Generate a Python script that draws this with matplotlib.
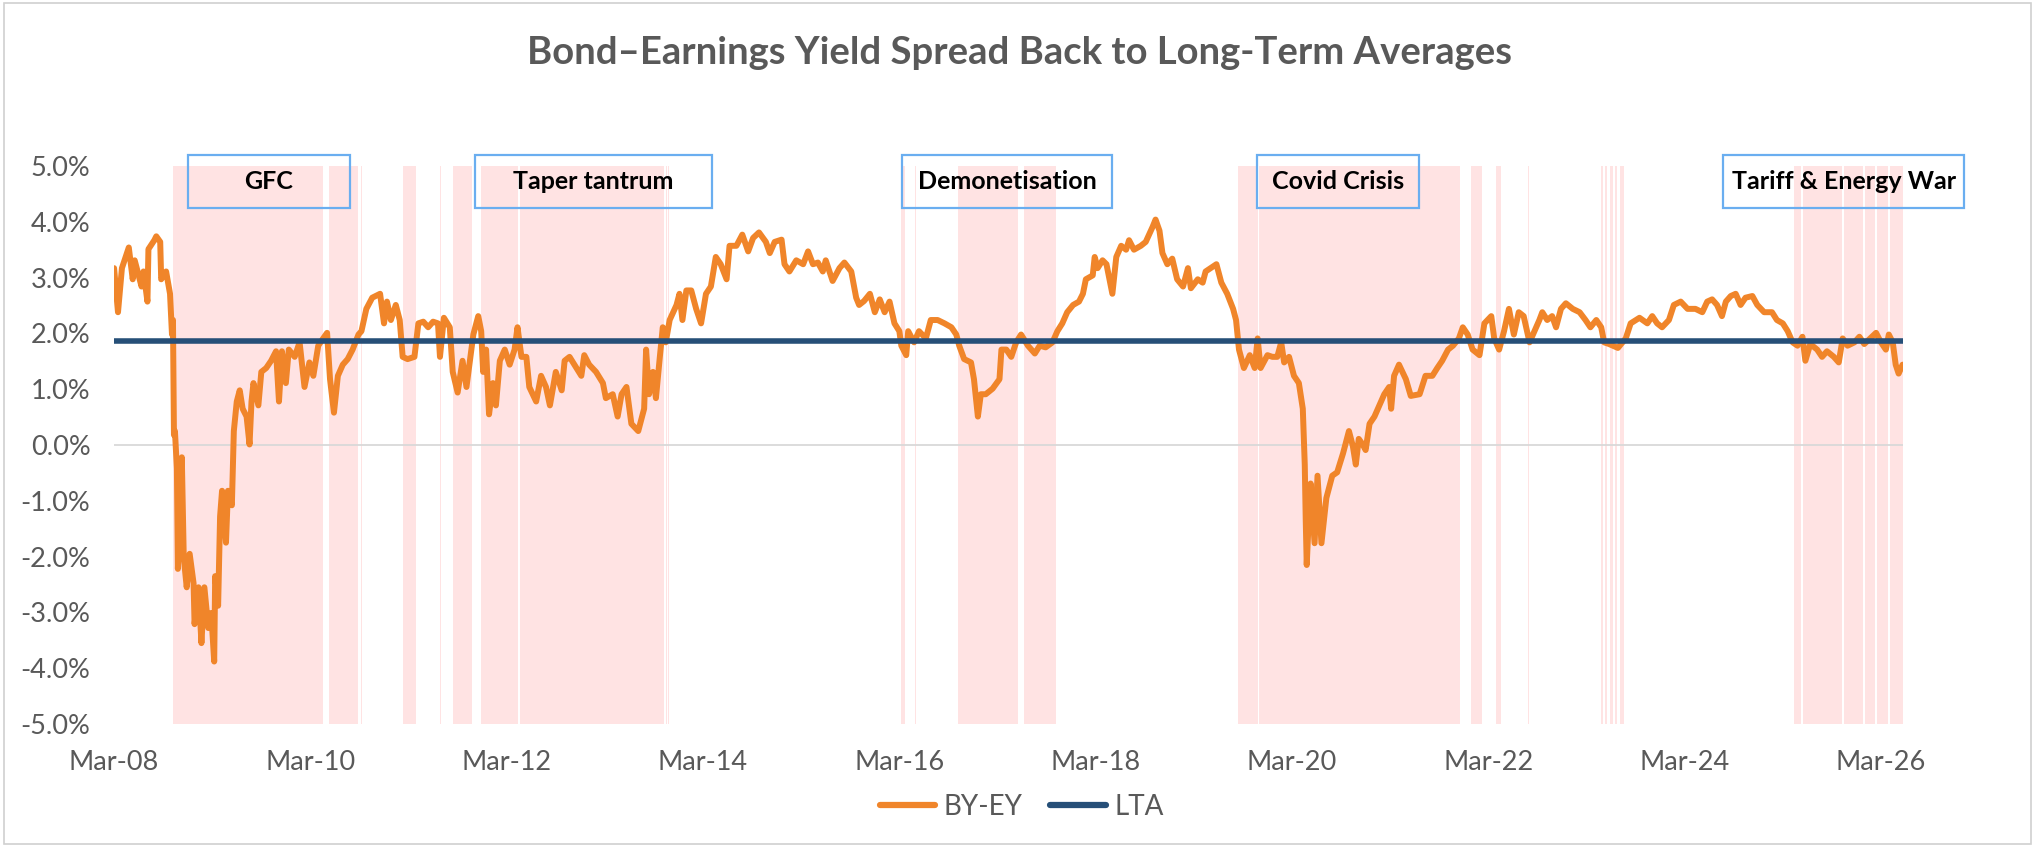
import matplotlib.pyplot as plt
from matplotlib.patches import Rectangle

# BY-EY spread (%), by decimal year
years_a = [2008.17, 2008.21, 2008.25, 2008.32, 2008.36, 2008.38, 2008.45, 2008.47, 2008.51, 2008.52,
           2008.58, 2008.60, 2008.64, 2008.65, 2008.70, 2008.74, 2008.76, 2008.77, 2008.78, 2008.79,
           2008.81, 2008.82, 2008.86, 2008.88, 2008.91, 2008.94, 2008.98, 2008.99, 2009.03, 2009.06,
           2009.09, 2009.13, 2009.16, 2009.19, 2009.20, 2009.23, 2009.25, 2009.27, 2009.31, 2009.33,
           2009.37, 2009.39, 2009.42, 2009.45, 2009.48, 2009.52, 2009.55, 2009.57, 2009.59, 2009.64,
           2009.67, 2009.72, 2009.77, 2009.82, 2009.85, 2009.88, 2009.92, 2009.95, 2010.01, 2010.06,
           2010.11, 2010.16, 2010.20, 2010.25, 2010.30, 2010.34, 2010.37, 2010.41, 2010.45, 2010.50,
           2010.55, 2010.60, 2010.66, 2010.69, 2010.74, 2010.80, 2010.88, 2010.92, 2010.95, 2010.99,
           2011.04, 2011.08, 2011.11, 2011.16, 2011.23, 2011.27, 2011.32, 2011.37, 2011.42, 2011.47,
           2011.49, 2011.53, 2011.59]
spread_a = [3.17, 2.38, 3.17, 3.54, 2.97, 3.31, 2.84, 3.11, 2.57, 3.51,
            3.67, 3.74, 3.64, 2.97, 3.11, 2.71, 1.98, 2.24, 0.18, 0.25,
            -0.42, -2.22, -0.22, -2.02, -2.55, -1.95, -2.48, -3.21, -2.55, -3.55,
            -2.55, -3.28, -3.01, -3.88, -2.35, -2.88, -1.28, -0.82, -1.75, -0.82,
            -1.08, 0.25, 0.78, 0.98, 0.65, 0.51, 0.01, 0.78, 1.11, 0.71,
            1.31, 1.38, 1.51, 1.68, 0.78, 1.68, 1.11, 1.71, 1.58, 1.84,
            1.04, 1.48, 1.24, 1.78, 1.91, 2.01, 1.18, 0.58, 1.24, 1.44,
            1.54, 1.71, 1.98, 2.04, 2.44, 2.64, 2.71, 2.18, 2.57, 2.24,
            2.51, 2.24, 1.58, 1.54, 1.58, 2.18, 2.21, 2.11, 2.21, 2.18,
            1.58, 2.28, 2.11]

years_b = [2011.62, 2011.67, 2011.72, 2011.76, 2011.79, 2011.83, 2011.88, 2011.91, 2011.93, 2011.96,
           2011.99, 2012.03, 2012.06, 2012.10, 2012.15, 2012.20, 2012.25, 2012.28, 2012.32, 2012.37,
           2012.40, 2012.47, 2012.52, 2012.57, 2012.61, 2012.67, 2012.73, 2012.76, 2012.81, 2012.88,
           2012.93, 2012.96, 2013.01, 2013.08, 2013.15, 2013.18, 2013.25, 2013.30, 2013.34, 2013.39,
           2013.44, 2013.51, 2013.57, 2013.59, 2013.62, 2013.66, 2013.69, 2013.73, 2013.76, 2013.79,
           2013.83, 2013.90, 2013.93, 2013.96, 2014.00, 2014.05, 2014.10, 2014.15, 2014.20, 2014.25,
           2014.30, 2014.35, 2014.41, 2014.44, 2014.51, 2014.57, 2014.63, 2014.68, 2014.74, 2014.81,
           2014.85, 2014.90, 2014.97, 2015.00, 2015.05, 2015.12, 2015.19, 2015.24, 2015.29, 2015.34]
spread_b = [1.31, 0.94, 1.51, 1.04, 1.44, 1.98, 2.31, 2.04, 1.31, 1.71,
            0.55, 1.11, 0.71, 1.51, 1.71, 1.44, 1.71, 2.11, 1.58, 1.58,
            1.04, 0.78, 1.24, 1.04, 0.71, 1.31, 0.98, 1.51, 1.58, 1.38,
            1.24, 1.61, 1.44, 1.31, 1.11, 0.84, 0.91, 0.51, 0.91, 1.04,
            0.38, 0.25, 0.65, 1.71, 0.91, 1.31, 0.84, 1.58, 2.11, 1.84,
            2.24, 2.51, 2.71, 2.24, 2.77, 2.77, 2.44, 2.18, 2.71, 2.84,
            3.37, 3.24, 2.97, 3.57, 3.57, 3.77, 3.47, 3.71, 3.81, 3.64,
            3.44, 3.64, 3.68, 3.24, 3.11, 3.31, 3.24, 3.47, 3.24, 3.27]

years_c = [2015.39, 2015.42, 2015.49, 2015.56, 2015.61, 2015.68, 2015.73, 2015.76, 2015.81, 2015.87,
           2015.92, 2015.97, 2016.02, 2016.07, 2016.12, 2016.17, 2016.19, 2016.24, 2016.26, 2016.32,
           2016.37, 2016.44, 2016.49, 2016.56, 2016.63, 2016.70, 2016.75, 2016.78, 2016.83, 2016.90,
           2016.93, 2016.97, 2017.00, 2017.05, 2017.12, 2017.19, 2017.21, 2017.26, 2017.31, 2017.36,
           2017.41, 2017.48, 2017.55, 2017.60, 2017.66, 2017.73, 2017.78, 2017.83, 2017.88, 2017.94,
           2018.00, 2018.04, 2018.07, 2018.14, 2018.16, 2018.19, 2018.24, 2018.28, 2018.34, 2018.38,
           2018.43, 2018.48, 2018.51, 2018.56, 2018.63, 2018.68, 2018.75, 2018.78, 2018.82, 2018.85,
           2018.90, 2018.95, 2019.00, 2019.06, 2019.11, 2019.14]
spread_c = [3.11, 3.31, 2.94, 3.17, 3.27, 3.11, 2.64, 2.51, 2.58, 2.71,
            2.38, 2.61, 2.38, 2.57, 2.18, 2.04, 1.78, 1.61, 2.04, 1.84,
            2.04, 1.91, 2.24, 2.24, 2.18, 2.11, 1.98, 1.78, 1.54, 1.48,
            1.18, 0.51, 0.91, 0.91, 1.01, 1.18, 1.71, 1.71, 1.58, 1.84,
            1.98, 1.78, 1.64, 1.78, 1.75, 1.84, 2.04, 2.18, 2.38, 2.51,
            2.57, 2.71, 2.97, 3.04, 3.37, 3.17, 3.31, 3.24, 2.71, 3.37,
            3.57, 3.50, 3.67, 3.50, 3.57, 3.64, 3.91, 4.04, 3.84, 3.44,
            3.24, 3.34, 2.97, 2.84, 3.17, 2.81]

years_d = [2019.21, 2019.26, 2019.29, 2019.34, 2019.40, 2019.45, 2019.51, 2019.57, 2019.60, 2019.63,
           2019.68, 2019.74, 2019.79, 2019.82, 2019.85, 2019.92, 2019.97, 2020.02, 2020.06, 2020.09,
           2020.14, 2020.19, 2020.24, 2020.28, 2020.30, 2020.31, 2020.32, 2020.34, 2020.36, 2020.40,
           2020.43, 2020.47, 2020.52, 2020.55, 2020.58, 2020.63, 2020.69, 2020.72, 2020.75, 2020.79,
           2020.82, 2020.85, 2020.89, 2020.92, 2020.96, 2021.01, 2021.06, 2021.11, 2021.16, 2021.18,
           2021.21, 2021.26, 2021.33, 2021.38, 2021.47, 2021.53, 2021.60, 2021.65, 2021.70, 2021.76,
           2021.81, 2021.87, 2021.91, 2021.96, 2022.01, 2022.08, 2022.13, 2022.20, 2022.23, 2022.28,
           2022.33, 2022.38, 2022.43, 2022.48, 2022.53, 2022.59, 2022.64, 2022.69, 2022.72, 2022.77,
           2022.82, 2022.86, 2022.91]
spread_d = [2.97, 2.91, 3.11, 3.17, 3.24, 2.91, 2.71, 2.44, 2.24, 1.71,
            1.38, 1.61, 1.38, 1.91, 1.38, 1.61, 1.58, 1.58, 1.84, 1.48,
            1.58, 1.24, 1.11, 0.65, -0.35, -1.35, -2.15, -1.35, -0.69, -1.76,
            -0.55, -1.76, -0.95, -0.75, -0.55, -0.49, -0.15, 0.05, 0.25, -0.02,
            -0.35, 0.11, 0.01, -0.09, 0.38, 0.51, 0.71, 0.91, 1.04, 0.65,
            1.24, 1.44, 1.18, 0.88, 0.91, 1.24, 1.24, 1.38, 1.51, 1.71,
            1.78, 1.91, 2.11, 1.98, 1.71, 1.61, 2.18, 2.31, 1.91, 1.71,
            2.04, 2.44, 1.98, 2.38, 2.31, 1.84, 2.04, 2.24, 2.38, 2.24,
            2.31, 2.11, 2.44]

years_e = [2022.96, 2023.03, 2023.10, 2023.16, 2023.21, 2023.27, 2023.32, 2023.35, 2023.40, 2023.49,
           2023.57, 2023.62, 2023.71, 2023.79, 2023.84, 2023.89, 2023.94, 2024.01, 2024.06, 2024.13,
           2024.20, 2024.28, 2024.35, 2024.40, 2024.45, 2024.50, 2024.55, 2024.59, 2024.64, 2024.69,
           2024.74, 2024.79, 2024.86, 2024.91, 2024.98, 2025.06, 2025.11, 2025.17, 2025.22, 2025.27,
           2025.32, 2025.37, 2025.40, 2025.45, 2025.52, 2025.57, 2025.62, 2025.69, 2025.74, 2025.78,
           2025.83, 2025.90, 2025.95, 2026.00, 2026.06, 2026.12, 2026.17, 2026.22, 2026.25, 2026.29,
           2026.32, 2026.35, 2026.39]
spread_e = [2.54, 2.44, 2.38, 2.24, 2.11, 2.24, 2.11, 1.84, 1.81, 1.74,
            1.91, 2.18, 2.28, 2.18, 2.31, 2.18, 2.11, 2.24, 2.51, 2.57,
            2.44, 2.44, 2.38, 2.57, 2.61, 2.51, 2.31, 2.57, 2.67, 2.71,
            2.51, 2.64, 2.67, 2.51, 2.38, 2.38, 2.24, 2.18, 2.04, 1.84,
            1.78, 1.94, 1.51, 1.81, 1.71, 1.58, 1.68, 1.58, 1.48, 1.91,
            1.78, 1.84, 1.94, 1.81, 1.91, 2.01, 1.84, 1.71, 1.98, 1.84,
            1.44, 1.28, 1.44]

lta_value = 1.87

# shaded stress periods (decimal years)
shade_start = [2008.77, 2010.36, 2010.685, 2011.11, 2011.495, 2011.62, 2011.91, 2012.31, 2013.795, 2013.815,
               2016.19, 2016.325, 2016.77, 2017.44, 2019.62, 2019.83, 2021.99, 2022.25, 2022.575,
               2023.32, 2023.36, 2023.41, 2023.46, 2023.51,
               2025.28, 2025.38, 2025.79, 2026.01, 2026.13, 2026.26]
shade_end = [2010.30, 2010.65, 2010.695, 2011.25, 2011.505, 2011.82, 2012.29, 2013.77, 2013.805, 2013.825,
             2016.23, 2016.335, 2017.38, 2017.77, 2019.82, 2021.88, 2022.11, 2022.30, 2022.585,
             2023.34, 2023.38, 2023.44, 2023.48, 2023.55,
             2025.36, 2025.77, 2025.99, 2026.11, 2026.24, 2026.39]

events = ['GFC', 'Taper tantrum', 'Demonetisation', 'Covid Crisis', 'Tariff & Energy War']
event_left = [2008.92, 2011.85, 2016.20, 2019.81, 2024.56]
event_right = [2010.57, 2014.26, 2018.34, 2021.46, 2027.02]

tick_years = [2008.17, 2010.17, 2012.17, 2014.17, 2016.17, 2018.17, 2020.17, 2022.17, 2024.17, 2026.17]
tick_labels = ['Mar-08', 'Mar-10', 'Mar-12', 'Mar-14', 'Mar-16', 'Mar-18', 'Mar-20', 'Mar-22', 'Mar-24', 'Mar-26']
y_ticks = [-5, -4, -3, -2, -1, 0, 1, 2, 3, 4, 5]

years = years_a + years_b + years_c + years_d + years_e
spread = spread_a + spread_b + spread_c + spread_d + spread_e
lta = [lta_value] * len(years)

plt.rcParams['font.family'] = ['Lato', 'DejaVu Sans']
grey = '#595959'

fig = plt.figure(figsize=(20.37, 8.47), dpi=100)
ax = fig.add_axes([0.056, 0.1452, 0.878, 0.6588])

for s, e in zip(shade_start, shade_end):
    ax.axvspan(s, e, color='#FFE3E3', lw=0, zorder=0)

ax.axhline(0, color='#D9D9D9', lw=1.3, zorder=1)
ax.plot(years, spread, color='#F0852A', lw=4.3, zorder=3, label='BY-EY',
        solid_joinstyle='round', solid_capstyle='round')
ax.plot(years, lta, color='#264F78', lw=4.0, zorder=4, label='LTA', solid_capstyle='butt')

ax.set_xlim(years[0], years[-1])
ax.set_ylim(-5, 5)
ax.set_yticks(y_ticks)
ax.set_yticklabels(['{:.1f}%'.format(v) for v in y_ticks])
ax.set_xticks(tick_years)
ax.set_xticklabels(tick_labels)
ax.tick_params(axis='both', length=0, labelsize=19.5, labelcolor=grey)
ax.tick_params(axis='x', pad=19)
ax.tick_params(axis='y', pad=17)
for sp in ax.spines.values():
    sp.set_visible(False)

# event boxes above the plot
for name, l, r in zip(events, event_left, event_right):
    ax.add_patch(Rectangle((l, 4.24), r - l, 0.96, fill=False, edgecolor='#6AAEF0',
                           lw=1.6, clip_on=False, zorder=5))
    ax.text((l + r) / 2, 4.72, name, ha='center', va='center', fontsize=18,
            fontweight='bold', color='black', zorder=6, clip_on=False)

fig.text(0.5005, 0.938, 'Bond\u2013Earnings Yield Spread Back to Long-Term Averages',
         ha='center', va='center', fontsize=27.5, fontweight='bold', color=grey)

leg = ax.legend(loc='center', bbox_to_anchor=(0.5075, -0.149), ncol=2, frameon=False,
                fontsize=20, handlelength=2.0, columnspacing=1.0, handletextpad=0.3)
for t in leg.get_texts():
    t.set_color(grey)
for h in leg.get_lines():
    h.set_solid_capstyle('round')
    h.set_linewidth(4.5)

fig.patches.append(Rectangle((0.002, 0.003), 0.995, 0.993, transform=fig.transFigure,
                             fill=False, edgecolor='#D0D0D0', lw=1.2))

fig.savefig('out.png', dpi=100)
